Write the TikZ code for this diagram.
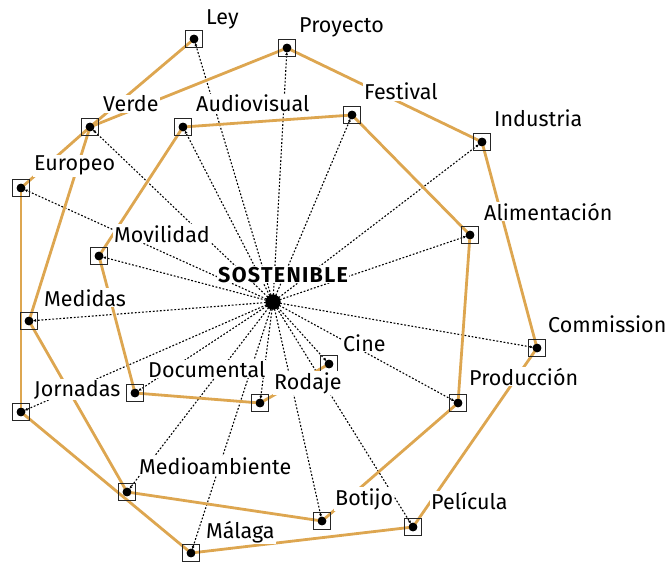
\documentclass[tikz,border=0pt]{standalone}
\usepackage{fontspec}
\setmainfont{Fira Sans}
\usetikzlibrary{arrows.meta}
\definecolor{ochre}{RGB}{221,166,80}
\begin{document}
\begin{tikzpicture}[
            x={(1pt,0pt)},
            y={(0pt,-1pt)},
            term/.style={draw=black!85, line width=1.6pt, minimum size=17pt, inner sep=0pt,
                path picture={\fill[black] (path picture bounding box.center) circle (4.3pt);}},
            hub/.style={circle, fill=black, minimum size=15pt, inner sep=0pt},
            spoke/.style={black, line width=1.1pt, dash pattern=on 1.8pt off 1.8pt,
                -{Latex[length=3pt,width=3pt]}, shorten >=4pt},
            link/.style={ochre, line width=2.8pt},
            word/.style={fill=white, inner sep=1pt, anchor=base west, font=\fontsize{21.5}{23}\selectfont}
        ]
        \useasboundingbox (0,0) rectangle (669,564);

        \node[hub] (sost) at (273,302) {};
        \node[term] (ley) at (194,39) {};
        \node[term] (proyecto) at (287,48) {};
        \node[term] (verde) at (90,127) {};
        \node[term] (audiovisual) at (183,127) {};
        \node[term] (festival) at (352,115) {};
        \node[term] (industria) at (482,142) {};
        \node[term] (europeo) at (21,188) {};
        \node[term] (alimentacion) at (470,235) {};
        \node[term] (movilidad) at (99,256) {};
        \node[term] (medidas) at (29,321) {};
        \node[term] (commission) at (537,348) {};
        \node[term] (cine) at (329,364) {};
        \node[term] (produccion) at (458,403) {};
        \node[term] (rodaje) at (260,403) {};
        \node[term] (documental) at (135,393) {};
        \node[term] (jornadas) at (21,412) {};
        \node[term] (medioambiente) at (127,492) {};
        \node[term] (botijo) at (322,521) {};
        \node[term] (pelicula) at (413,527) {};
        \node[term] (malaga) at (191,553) {};

        % spokes from the hub
        \draw[spoke] (sost.center) -- (ley.center);
        \draw[spoke] (sost.center) -- (proyecto.center);
        \draw[spoke] (sost.center) -- (verde.center);
        \draw[spoke] (sost.center) -- (audiovisual.center);
        \draw[spoke] (sost.center) -- (festival.center);
        \draw[spoke] (sost.center) -- (industria.center);
        \draw[spoke] (sost.center) -- (europeo.center);
        \draw[spoke] (sost.center) -- (alimentacion.center);
        \draw[spoke] (sost.center) -- (movilidad.center);
        \draw[spoke] (sost.center) -- (medidas.center);
        \draw[spoke] (sost.center) -- (commission.center);
        \draw[spoke] (sost.center) -- (cine.center);
        \draw[spoke] (sost.center) -- (produccion.center);
        \draw[spoke] (sost.center) -- (rodaje.center);
        \draw[spoke] (sost.center) -- (documental.center);
        \draw[spoke] (sost.center) -- (jornadas.center);
        \draw[spoke] (sost.center) -- (medioambiente.center);
        \draw[spoke] (sost.center) -- (botijo.center);
        \draw[spoke] (sost.center) -- (pelicula.center);
        \draw[spoke] (sost.center) -- (malaga.center);

        % ochre links
        \draw[link] (ley.center) -- (verde.center);
        \draw[link] (verde.center) -- (proyecto.center);
        \draw[link] (proyecto.center) -- (industria.center);
        \draw[link] (verde.center) -- (europeo.center);
        \draw[link] (verde.center) -- (medidas.center);
        \draw[link] (europeo.center) -- (jornadas.center);
        \draw[link] (audiovisual.center) -- (festival.center);
        \draw[link] (audiovisual.center) -- (movilidad.center);
        \draw[link] (festival.center) -- (alimentacion.center);
        \draw[link] (industria.center) -- (commission.center);
        \draw[link] (alimentacion.center) -- (produccion.center);
        \draw[link] (commission.center) -- (pelicula.center);
        \draw[link] (movilidad.center) -- (documental.center);
        \draw[link] (documental.center) -- (rodaje.center);
        \draw[link] (rodaje.center) -- (cine.center);
        \draw[link] (medidas.center) -- (medioambiente.center);
        \draw[link] (jornadas.center) -- (malaga.center);
        \draw[link] (medioambiente.center) -- (botijo.center);
        \draw[link] (produccion.center) -- (botijo.center);
        \draw[link] (malaga.center) -- (pelicula.center);

        % redraw boxes over the links
        \foreach \n in {ley,proyecto,verde,audiovisual,festival,industria,europeo,alimentacion,
            movilidad,medidas,commission,cine,produccion,rodaje,documental,jornadas,
            medioambiente,botijo,pelicula,malaga}
            \node[term] at (\n.center) {};
        \node[hub] at (sost.center) {};

        % labels
        \node[word, font=\fontsize{21.5}{23}\selectfont\bfseries\addfontfeatures{LetterSpace=6}] (sost-t) at (217,282) {SOSTENIBLE};
        \node[word] (ley-t) at (205,25) {Ley};
        \node[word] (proyecto-t) at (298,33) {Proyecto};
        \node[word] (verde-t) at (102,112) {Verde};
        \node[word] (audiovisual-t) at (195,112) {Audiovisual};
        \node[word] (festival-t) at (363,100) {Festival};
        \node[word] (industria-t) at (493,127) {Industria};
        \node[word] (europeo-t) at (33,171) {Europeo};
        \node[word] (alimentacion-t) at (483,220) {Alimentación};
        \node[word] (movilidad-t) at (113,242) {Movilidad};
        \node[word] (medidas-t) at (43,306) {Medidas};
        \node[word] (commission-t) at (547,332) {Commission};
        \node[word] (cine-t) at (342,351) {Cine};
        \node[word] (produccion-t) at (468,385) {Producción};
        \node[word] (rodaje-t) at (273,389) {Rodaje};
        \node[word] (documental-t) at (147,377) {Documental};
        \node[word] (jornadas-t) at (33,396) {Jornadas};
        \node[word] (medioambiente-t) at (138,474) {Medioambiente};
        \node[word] (botijo-t) at (334,505) {Botijo};
        \node[word] (pelicula-t) at (430,509) {Película};
        \node[word] (malaga-t) at (205,538) {Málaga};
    \end{tikzpicture}
\end{document}
